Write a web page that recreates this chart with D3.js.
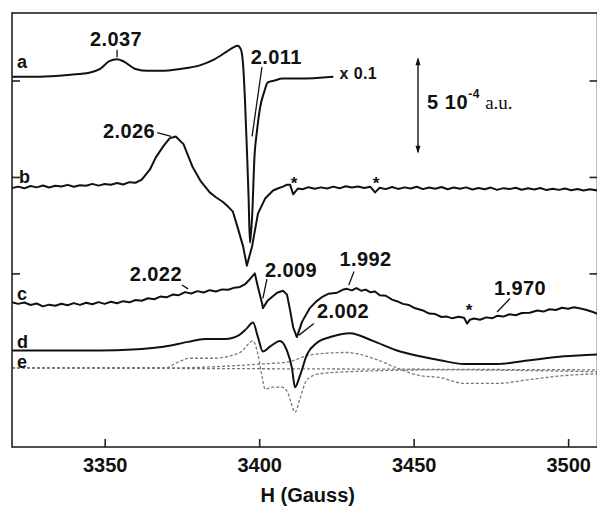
<!DOCTYPE html>
<html>
<head>
<meta charset="utf-8">
<script src="https://cdn.jsdelivr.net/npm/d3@7"></script>
<style>
    body { margin: 0; background: #fff; }
    text { font-family: "Liberation Sans", Arial, sans-serif; font-weight: bold; fill: #111; }
</style>
</head>
<body>
<div id="chart"></div>
<script>
// spectra as [field (G), signal (1e-5 a.u.)], each trace stacked on its own offset
const traceA = [[3320, 192], [3329, 192], [3339, 193], [3345, 194], [3348.5, 196], [3351.5, 200], [3354, 201], [3356, 200], [3360, 196], [3364, 195], [3368, 195], [3374.5, 196], [3381, 198], [3385.5, 201], [3389.5, 205], [3391.5, 207], [3393, 208], [3394.1, 206], [3394.8, 198], [3395.4, 180], [3396.1, 151], [3396.6, 128], [3397, 106], [3397.3, 110], [3397.7, 119], [3398.5, 151], [3399.3, 164], [3400.3, 176], [3401.6, 184], [3402.8, 189], [3405, 190], [3407.5, 191], [3413, 191], [3424, 192]];

const traceB = [[3320, 134.2], [3322, 135.0], [3324, 134.1], [3326, 135.3], [3328, 134.6], [3330, 135.6], [3332, 134.5], [3334, 135.4], [3336, 135.1], [3338, 135.9], [3340, 134.9], [3342, 135.7], [3344, 135.4], [3346, 136.4], [3348, 135.5], [3350, 136.3], [3352, 136.0], [3354, 136.9], [3356, 136.1], [3358, 137.3], [3360, 137.0], [3362, 138.6], [3363.7, 142], [3364.7, 144], [3366.5, 150], [3369, 156], [3371, 160], [3373, 161], [3375.5, 157], [3378.5, 145], [3381, 138], [3384, 132], [3386, 129.5], [3388.3, 127], [3390, 124.5], [3391.5, 122], [3393, 114], [3394.8, 104], [3396, 94], [3397.7, 104], [3399.6, 121], [3402, 129], [3404.5, 133], [3406, 134], [3407.7, 135], [3409, 136], [3410, 136], [3411, 131], [3412.5, 134], [3414, 133.6], [3416, 134.7], [3418, 133.9], [3420, 134.6], [3422, 134.0], [3424, 135.0], [3426, 134.1], [3428, 135.2], [3430, 134.5], [3432, 135.1], [3434, 134.3], [3436, 134.9], [3437.5, 132], [3439, 134.4], [3441, 133.7], [3443, 134.8], [3445, 133.8], [3447, 134.6], [3449, 134.0], [3451, 134.9], [3453, 133.7], [3455, 134.5], [3457, 133.9], [3459, 134.8], [3461, 133.6], [3463, 134.5], [3465, 133.9], [3467, 134.6], [3469, 133.5], [3471, 134.3], [3473, 133.6], [3475, 134.5], [3477, 133.3], [3479, 134.2], [3481, 133.7], [3483, 134.4], [3485, 133.4], [3487, 134.1], [3489, 133.5], [3491, 134.3], [3493, 133.2], [3495, 133.9], [3497, 133.3], [3499, 134.0], [3501, 133.1], [3503, 133.8], [3505, 133.0], [3507, 133.6], [3509.5, 133.0]];

const traceC = [[3320, 75.0], [3322, 74.2], [3324, 74.9], [3326, 73.6], [3328, 74.4], [3330, 72.9], [3332, 73.8], [3334, 73.2], [3336, 74.3], [3338, 73.5], [3340, 74.6], [3342, 73.7], [3344, 74.8], [3346, 74.0], [3348, 75.1], [3350, 74.2], [3352, 75.3], [3354, 74.5], [3356, 75.6], [3358, 75.0], [3360, 76.2], [3362, 75.8], [3364, 77.1], [3366, 76.6], [3368, 78.0], [3370, 77.6], [3372, 79.0], [3374, 78.7], [3376, 80.3], [3378, 79.6], [3380, 80.8], [3382, 80.1], [3384, 81.3], [3386, 80.6], [3388, 81.7], [3390, 81.5], [3392, 82.6], [3393.8, 83], [3395.5, 84.5], [3397, 87], [3398.6, 90], [3399.6, 83], [3401, 74], [3401.2, 72], [3402.8, 76], [3405.8, 80], [3407.7, 81], [3409, 79], [3410, 71], [3411, 62], [3412.2, 57], [3413.9, 65], [3416.4, 72], [3418.5, 75.5], [3420.6, 78], [3422.5, 79.5], [3425.2, 80], [3427, 81.5], [3428.4, 82], [3430, 81.2], [3431.5, 82.4], [3433, 81.0], [3434.5, 81.6], [3436, 80.2], [3437.5, 80.6], [3439, 78.7], [3441, 78.4], [3443, 76.4], [3444.6, 75.6], [3446.5, 74.2], [3448.5, 73.6], [3450.5, 71.9], [3453.3, 70.6], [3455, 69.2], [3457, 68.9], [3459, 67.4], [3460.8, 67.6], [3462.5, 66.7], [3464.5, 67.5], [3466.3, 67], [3467.3, 64], [3468.2, 66], [3469.5, 66.6], [3471.5, 66.0], [3473.5, 67.2], [3475.5, 66.8], [3477, 68], [3479, 67.6], [3481, 68.8], [3483, 68.3], [3485, 69.5], [3487.6, 69.6], [3490, 70.8], [3492, 70.2], [3494, 71.4], [3496, 71.0], [3498, 72.2], [3500, 71.7], [3501.9, 72.4], [3504, 71.8], [3506, 71], [3508, 70], [3509.5, 69]];

const traceD = [[3320, 50], [3348.5, 50], [3359, 50.5], [3369, 52], [3377, 54.5], [3382.5, 56], [3389, 56], [3393.5, 58], [3396, 61.5], [3398, 64.5], [3399.6, 57], [3401.2, 49.5], [3403.5, 52], [3406.7, 55], [3407.7, 54], [3409, 50], [3410.6, 41], [3411.6, 31], [3413.2, 37], [3415.5, 48], [3418.7, 54], [3423, 57], [3429.4, 59], [3436.8, 55], [3444.6, 50], [3452, 47], [3458.5, 45], [3466.3, 43], [3477, 43], [3487.6, 45], [3498.6, 47], [3509.5, 48]];

// simulated components drawn dashed (trace e)
const traceBase = [[3320, 41], [3509.5, 40]];
const traceE1 = [[3320, 41], [3369.5, 41], [3373.7, 44], [3377.6, 46], [3385, 46], [3393.8, 49], [3398, 55], [3399.6, 48], [3401, 36], [3401.9, 30], [3404.5, 31], [3407.4, 31], [3409.3, 28], [3410.3, 23], [3411.6, 18], [3413.2, 25], [3415.5, 35], [3419.7, 38], [3428.4, 39], [3458.5, 40], [3509.5, 39]];
const traceE2 = [[3320, 41], [3371, 41], [3390.5, 42], [3400.3, 43], [3409, 44], [3417.4, 48], [3428.4, 49], [3436.8, 46], [3444.6, 41], [3452, 37], [3458.5, 36], [3466.3, 33], [3477, 33], [3487.6, 35], [3498.6, 37], [3509.5, 38]];

const xTicks = [3350, 3400, 3450, 3500];
const yTicks = [90, 140, 190];

const traceNames = ["a", "b", "c", "d", "e"];
const traceLevel = [196.5, 137, 76, 51.5, 40.7];

const gLabels = ["2.037", "2.011", "2.026", "2.022", "2.009", "1.992", "2.002", "1.970"];
const gField = [3353.7, 3397.3, 3366.3, 3375, 3401.9, 3426, 3418.7, 3476];
const gLevel = [208, 198.5, 160, 86, 88, 94, 67, 79];
const gAnchor = ["middle", "start", "end", "end", "start", "start", "start", "start"];
// leader lines: [field1, level1, field2, level2]
const gLeaders = [
    [3354, 206, 3354, 202],
    [3400.9, 197, 3397.7, 161],
    [3367, 163, 3371.5, 161],
    [3375, 84, 3377, 82],
    [3402.5, 87, 3401.2, 77],
    [3430.7, 91, 3429, 84],
    [3417.7, 64, 3412.9, 58],
    [3481.2, 77, 3477, 70]
];

const starField = [3411.3, 3437.8, 3467.9];
const starLevel = [134, 134, 68];

const width = 597;
const height = 507;
const plotLeft = 12, plotTop = 13, plotRight = 597.5, plotBottom = 447;

const x = d3.scaleLinear().domain([3320, 3509.5]).range([plotLeft, plotRight]);
const y = d3.scaleLinear().domain([0, 225]).range([plotBottom, plotTop]);

const svg = d3.select("#chart")
    .append("svg")
    .attr("width", width)
    .attr("height", height);

const smooth = d3.line()
    .x((d) => x(d[0]))
    .y((d) => y(d[1]))
    .curve(d3.curveMonotoneX);
// noisy measured traces keep straight segments
const raw = d3.line()
    .x((d) => x(d[0]))
    .y((d) => y(d[1]));

// dashed components first so solid traces sit on top
[traceBase, traceE1, traceE2].forEach((t) => {
    svg.append("path")
        .datum(t)
        .attr("d", smooth)
        .attr("fill", "none")
        .attr("stroke", "#7a7a7a")
        .attr("stroke-width", 1.3)
        .attr("stroke-dasharray", "3,2");
});

[[traceA, smooth], [traceB, raw], [traceC, raw], [traceD, smooth]].forEach(([t, gen]) => {
    svg.append("path")
        .datum(t)
        .attr("d", gen)
        .attr("fill", "none")
        .attr("stroke", "#111")
        .attr("stroke-width", 2)
        .attr("stroke-linejoin", "round");
});

// frame
svg.append("rect")
    .attr("x", plotLeft)
    .attr("y", plotTop)
    .attr("width", plotRight - plotLeft)
    .attr("height", plotBottom - plotTop)
    .attr("fill", "none")
    .attr("stroke", "#222")
    .attr("stroke-width", 1.6);

const xAxis = svg.append("g")
    .attr("transform", `translate(0,${plotBottom})`)
    .call(d3.axisBottom(x).tickValues(xTicks).tickSizeInner(-8).tickSizeOuter(0).tickPadding(11).tickFormat(d3.format("d")));
xAxis.select(".domain").remove();
xAxis.selectAll("line").attr("stroke", "#222").attr("stroke-width", 1.6);
xAxis.selectAll("text")
    .style("font-size", "20px")
    .style("font-weight", "bold")
    .style("font-family", '"Liberation Sans", Arial, sans-serif')
    .attr("fill", "#111");

const yLeft = svg.append("g")
    .attr("transform", `translate(${plotLeft},0)`)
    .call(d3.axisLeft(y).tickValues(yTicks).tickSizeInner(-8).tickSizeOuter(0).tickFormat(""));
const yRight = svg.append("g")
    .attr("transform", `translate(${plotRight},0)`)
    .call(d3.axisRight(y).tickValues(yTicks).tickSizeInner(-8).tickSizeOuter(0).tickFormat(""));
[yLeft, yRight].forEach((g) => {
    g.select(".domain").remove();
    g.selectAll("line").attr("stroke", "#222").attr("stroke-width", 1.6);
});

svg.append("text")
    .attr("x", (plotLeft + plotRight) / 2 + 3)
    .attr("y", 502)
    .attr("text-anchor", "middle")
    .style("font-size", "20px")
    .text("H (Gauss)");

// trace letters
svg.selectAll(".trace-name")
    .data(traceNames)
    .enter()
    .append("text")
    .attr("class", "trace-name")
    .attr("x", (d) => (d === "b" ? plotLeft + 7 : plotLeft + 5))
    .attr("y", (d, i) => y(traceLevel[i]))
    .style("font-size", "18px")
    .text((d) => d);

// g-value labels
svg.selectAll(".g-label")
    .data(gLabels)
    .enter()
    .append("text")
    .attr("class", "g-label")
    .attr("x", (d, i) => x(gField[i]))
    .attr("y", (d, i) => y(gLevel[i]))
    .attr("text-anchor", (d, i) => gAnchor[i])
    .style("font-size", "20px")
    .style("letter-spacing", "0.4px")
    .text((d) => d);

svg.selectAll(".leader")
    .data(gLeaders)
    .enter()
    .append("line")
    .attr("class", "leader")
    .attr("x1", (d) => x(d[0]))
    .attr("y1", (d) => y(d[1]))
    .attr("x2", (d) => x(d[2]))
    .attr("y2", (d) => y(d[3]))
    .attr("stroke", "#111")
    .attr("stroke-width", 1.3);

svg.selectAll(".star")
    .data(starField)
    .enter()
    .append("text")
    .attr("class", "star")
    .attr("x", (d) => x(d))
    .attr("y", (d, i) => y(starLevel[i]))
    .attr("text-anchor", "middle")
    .style("font-size", "17px")
    .text("*");

// x 0.1 scaling note for trace a
svg.append("text")
    .attr("x", x(3426))
    .attr("y", y(191))
    .style("font-size", "16px")
    .style("letter-spacing", "0.4px")
    .text("x 0.1");

// scale bar 5e-4 a.u. = 50 units
const barField = 3451.4;
const barTop = 202, barLen = 50;
const bx = x(barField);
svg.append("line")
    .attr("x1", bx).attr("x2", bx)
    .attr("y1", y(barTop) + 2).attr("y2", y(barTop - barLen) - 2)
    .attr("stroke", "#111")
    .attr("stroke-width", 1.4);
[[y(barTop), 1], [y(barTop - barLen), -1]].forEach(([py, dir]) => {
    svg.append("path")
        .attr("d", `M${bx},${py} L${bx - 2.5},${py + dir * 8} L${bx + 2.5},${py + dir * 8} Z`)
        .attr("fill", "#111");
});

const scaleText = svg.append("text")
    .attr("x", x(3454.3))
    .attr("y", y(175))
    .style("font-size", "20px")
    .style("letter-spacing", "0.6px");
scaleText.append("tspan").text("5 10");
scaleText.append("tspan")
    .attr("dy", -11)
    .style("font-size", "12px")
    .text("-4");
scaleText.append("tspan")
    .attr("dy", 11)
    .attr("dx", 5)
    .style("font-family", '"Liberation Serif", "Times New Roman", serif')
    .style("font-weight", "normal")
    .style("letter-spacing", "0px")
    .style("font-size", "19px")
    .text("a.u.");
</script>
</body>
</html>
